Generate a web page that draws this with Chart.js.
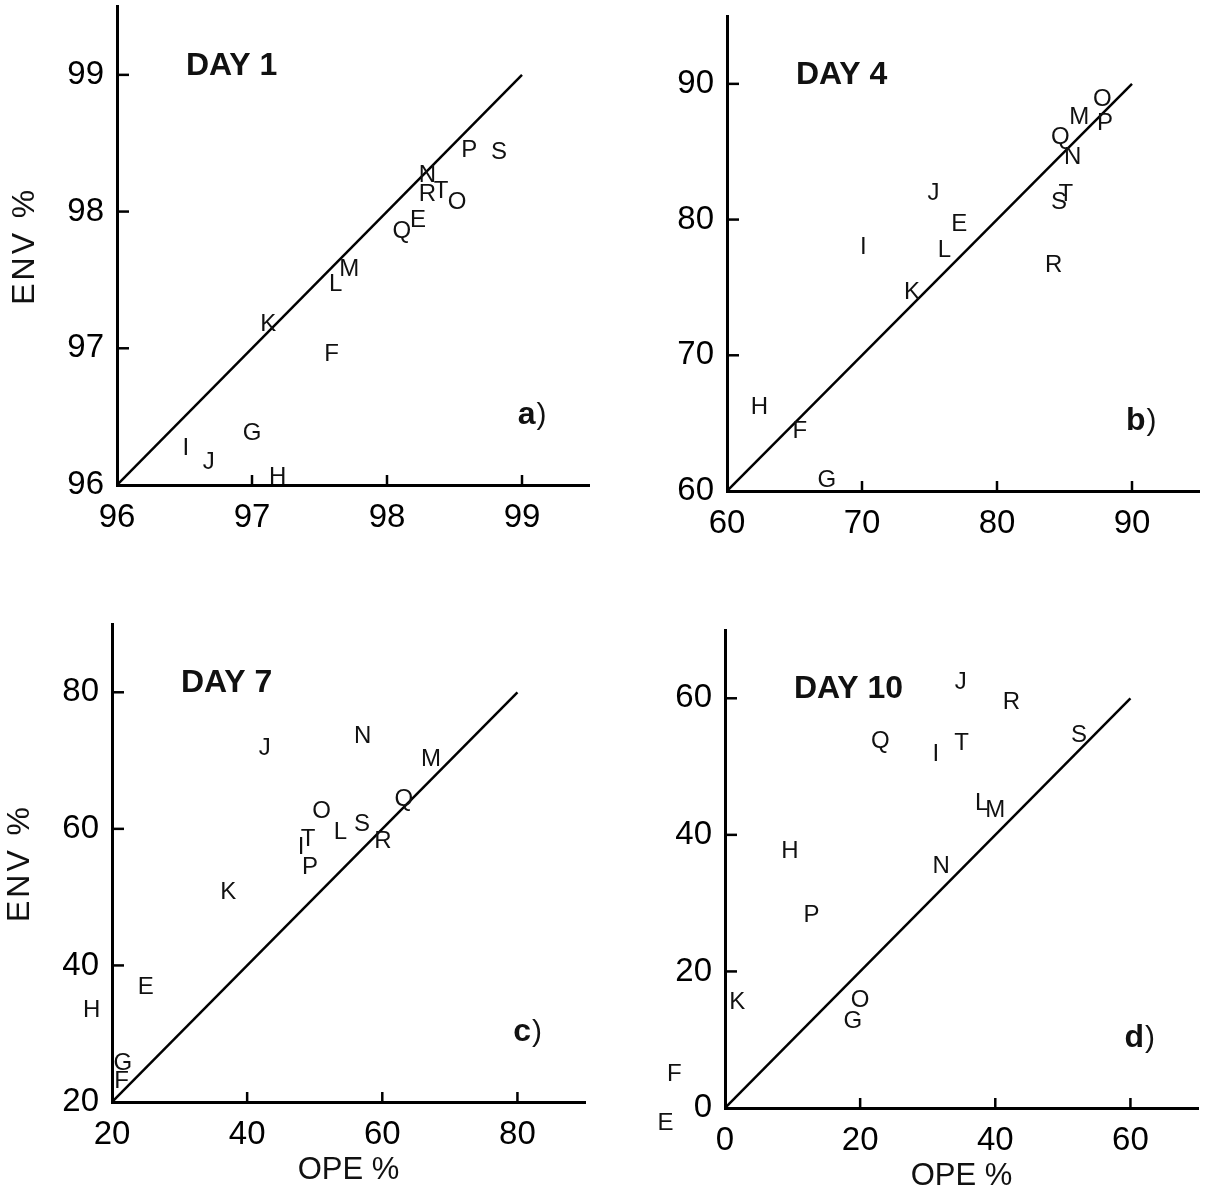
<!DOCTYPE html>
<html>
<head>
<meta charset="utf-8">
<script src="https://cdn.jsdelivr.net/npm/chart.js@4.4.0/dist/chart.umd.min.js"></script>
<style>
  body { margin: 0; background: #fff; width: 1206px; height: 1191px; position: relative; overflow: hidden; }
  canvas { position: absolute; }
</style>
</head>
<body>
<canvas id="dia1"></canvas>
<canvas id="dia4"></canvas>
<canvas id="dia7"></canvas>
<canvas id="dia10"></canvas>
<script>
// Letras das amostras (mesma ordem em todas as listas)
const letras = ['E', 'F', 'G', 'H', 'I', 'J', 'K', 'L', 'M', 'N', 'O', 'P', 'Q', 'R', 'S', 'T'];

// Dia 1
const opeDia1 = [98.23, 97.59, 97.00, 97.19, 96.51, 96.68, 97.12, 97.62, 97.72, 98.30, 98.52, 98.61, 98.11, 98.30, 98.83, 98.40];
const envDia1 = [97.95, 96.97, 96.39, 96.07, 96.28, 96.18, 97.19, 97.48, 97.59, 98.28, 98.08, 98.46, 97.87, 98.14, 98.45, 98.16];
const ticksDia1 = [96, 97, 98, 99];
const limitesDia1 = [96, 99.5];
const retaDia1 = [96, 99];

// Dia 4
const opeDia4 = [77.2, 65.4, 67.4, 62.4, 70.1, 75.3, 73.7, 76.1, 86.1, 85.6, 87.8, 88.0, 84.7, 84.2, 84.6, 85.1];
const envDia4 = [79.8, 64.5, 60.9, 66.3, 78.1, 82.1, 74.8, 77.9, 87.7, 84.7, 89.0, 87.2, 86.2, 76.8, 81.4, 82.0];
const ticksDia4 = [60, 70, 80, 90];
const limitesDia4 = [60, 95];
const retaDia4 = [60, 90];

// Dia 7
const opeDia7 = [25.0, 21.4, 21.6, 17.0, 48.0, 42.6, 37.2, 53.8, 67.2, 57.1, 51.0, 49.3, 63.2, 60.1, 57.0, 49.0];
const envDia7 = [37.0, 23.3, 25.9, 33.7, 57.5, 72.1, 50.9, 59.8, 70.4, 73.8, 62.9, 54.7, 64.6, 58.4, 60.9, 58.7];
const ticksDia7 = [20, 40, 60, 80];
const limitesDia7 = [20, 90];
const retaDia7 = [20, 80];

// Dia 10
const opeDia10 = [-8.8, -7.5, 18.9, 9.6, 31.2, 34.9, 1.8, 38.0, 40.0, 32.0, 20.0, 12.8, 23.0, 42.4, 52.4, 35.0];
const envDia10 = [-2.0, 5.2, 12.9, 37.9, 52.1, 62.6, 15.8, 44.9, 43.8, 35.7, 16.0, 28.5, 53.9, 59.7, 54.8, 53.7];
const ticksDia10 = [0, 20, 40, 60];
const limitesDia10 = [0, 70];
const retaDia10 = [0, 60];

const FONTE = '"Liberation Sans", Arial, sans-serif';
const LARGURA_Y = 80;
const ALTURA_X = 70;

// caixa = posição do canvas; area = área do gráfico desejada (px da página)
const paineis = [
    { id: 'dia1', titulo: 'DAY 1', letra: 'a', ope: opeDia1, env: envDia1, ticks: ticksDia1, limites: limitesDia1, reta: retaDia1,
      tituloY: true, tituloX: false, caixa: [0, 0, 603, 580], area: [117, 6.5, 589.5, 485] },
    { id: 'dia4', titulo: 'DAY 4', letra: 'b', ope: opeDia4, env: envDia4, ticks: ticksDia4, limites: limitesDia4, reta: retaDia4,
      tituloY: false, tituloX: false, caixa: [603, 0, 603, 580], area: [727, 16, 1199.5, 491] },
    { id: 'dia7', titulo: 'DAY 7', letra: 'c', ope: opeDia7, env: envDia7, ticks: ticksDia7, limites: limitesDia7, reta: retaDia7,
      tituloY: true, tituloX: true, caixa: [0, 590, 603, 601], area: [112, 624, 585, 1102] },
    { id: 'dia10', titulo: 'DAY 10', letra: 'd', ope: opeDia10, env: envDia10, ticks: ticksDia10, limites: limitesDia10, reta: retaDia10,
      tituloY: false, tituloX: true, caixa: [603, 590, 603, 601], area: [725, 630, 1198, 1108] }
];

// Desenha marcas internas, letras e textos
const pluginPainel = {
    id: 'painel',
    afterDatasetsDraw(chart, args, opts) {
        const p = opts.config;
        const { ctx, chartArea: a } = chart;
        const x = chart.scales.x;
        const y = chart.scales.y;
        ctx.save();
        ctx.strokeStyle = '#000';
        ctx.lineWidth = 2.5;
        p.ticks.slice(1).forEach(v => {
            const py = y.getPixelForValue(v);
            ctx.beginPath();
            ctx.moveTo(a.left, py);
            ctx.lineTo(a.left + 12, py);
            ctx.stroke();
            const px = x.getPixelForValue(v);
            ctx.beginPath();
            ctx.moveTo(px, a.bottom);
            ctx.lineTo(px, a.bottom - 10);
            ctx.stroke();
        });

        ctx.fillStyle = '#111';
        ctx.textAlign = 'center';
        ctx.textBaseline = 'alphabetic';
        ctx.font = '24px ' + FONTE;
        const meta = chart.getDatasetMeta(1);
        meta.data.forEach((el, i) => {
            ctx.fillText(letras[i], el.x, el.y + 8.5);
        });

        // título do dia
        ctx.textAlign = 'left';
        ctx.font = 'bold 32px ' + FONTE;
        ctx.fillText(p.titulo, a.left + 69, a.top + 57 + 11);

        // letra do painel, ex: a)
        ctx.font = 'bold 32px ' + FONTE;
        const wLetra = ctx.measureText(p.letra).width;
        ctx.font = '30px ' + FONTE;
        const wPar = ctx.measureText(')').width;
        const xIni = a.right - 44 - wLetra - wPar;
        ctx.font = 'bold 32px ' + FONTE;
        ctx.fillText(p.letra, xIni, a.bottom - 72 + 11);
        ctx.font = '30px ' + FONTE;
        ctx.fillText(')', xIni + wLetra + 1, a.bottom - 72 + 11);

        ctx.textAlign = 'center';
        if (p.tituloY) {
            ctx.save();
            ctx.font = '32px ' + FONTE;
            ctx.letterSpacing = '3px';
            ctx.translate(a.left - 83, (a.top + a.bottom) / 2);
            ctx.rotate(-Math.PI / 2);
            ctx.fillText('ENV %', 0, 0);
            ctx.restore();
        }
        if (p.tituloX) {
            ctx.font = '31px ' + FONTE;
            ctx.fillText('OPE %', (a.left + a.right) / 2, a.bottom + 66 + 11);
        }
        ctx.restore();
    }
};

function eixo(p, vertical) {
    return {
        type: 'linear',
        min: p.limites[0],
        max: p.limites[1],
        grid: { display: false, drawTicks: false },
        border: { display: true, color: '#000', width: 3 },
        ticks: {
            color: '#000',
            padding: vertical ? 13 : 13,
            font: { family: FONTE, size: 33 },
            callback: v => String(v)
        },
        afterBuildTicks: s => { s.ticks = p.ticks.map(v => ({ value: v })); },
        afterFit: s => {
            if (vertical) s.width = LARGURA_Y;
            else s.height = ALTURA_X;
            // sem folga extra para os rótulos das pontas
            s.paddingTop = 0;
            s.paddingBottom = 0;
            s.paddingLeft = 0;
            s.paddingRight = 0;
        }
    };
}

paineis.forEach(p => {
    const [cx, cy, cw, ch] = p.caixa;
    const [L, T, R, B] = p.area;
    const canvas = document.getElementById(p.id);
    canvas.style.left = cx + 'px';
    canvas.style.top = cy + 'px';
    canvas.width = cw;
    canvas.height = ch;
    canvas.style.width = cw + 'px';
    canvas.style.height = ch + 'px';

    new Chart(canvas, {
        type: 'scatter',
        data: {
            datasets: [
                {
                    label: 'reta',
                    data: [{ x: p.reta[0], y: p.reta[0] }, { x: p.reta[1], y: p.reta[1] }],
                    showLine: true,
                    borderColor: '#000',
                    borderWidth: 2.5,
                    pointRadius: 0
                },
                {
                    label: 'amostras',
                    data: p.ope.map((v, i) => ({ x: v, y: p.env[i] })),
                    pointRadius: 0,
                    clip: false
                }
            ]
        },
        options: {
            responsive: false,
            animation: false,
            layout: {
                padding: {
                    left: L - cx - LARGURA_Y,
                    top: T - cy,
                    right: cx + cw - R,
                    bottom: cy + ch - B - ALTURA_X
                }
            },
            plugins: {
                legend: { display: false },
                tooltip: { enabled: false },
                painel: { config: p }
            },
            scales: {
                x: eixo(p, false),
                y: eixo(p, true)
            }
        },
        plugins: [pluginPainel]
    });
});
</script>
</body>
</html>
